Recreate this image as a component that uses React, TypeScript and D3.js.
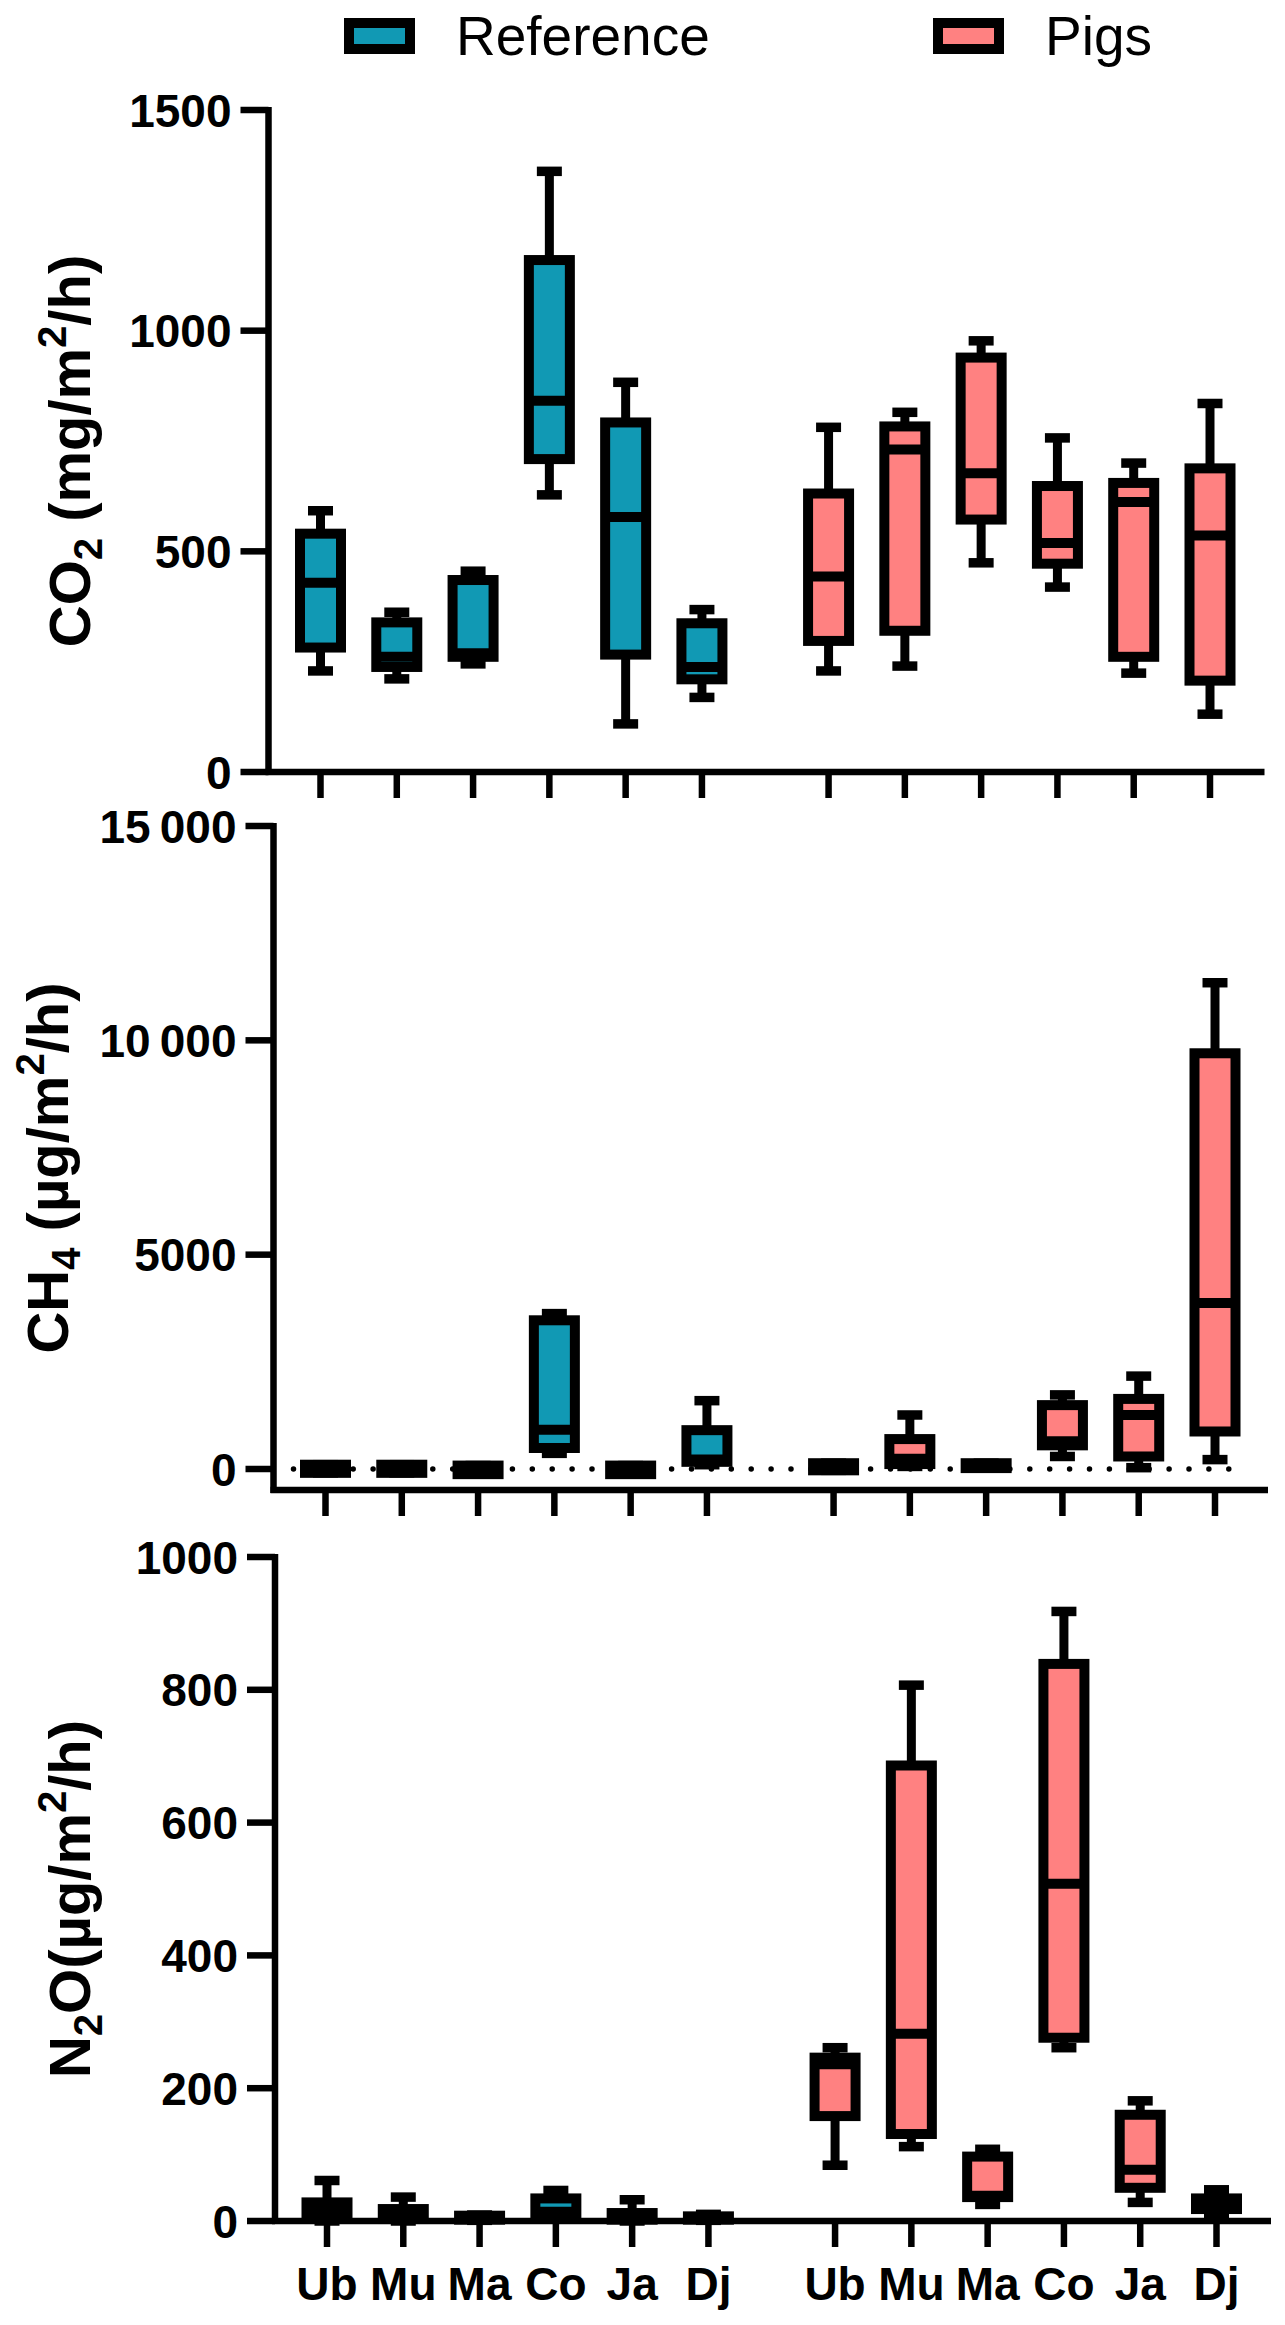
import * as d3 from "d3";

// five-number summaries: [min, q1, median, q3, max]
const sites = ["Ub", "Mu", "Ma", "Co", "Ja", "Dj"];

const co2Reference = [
  [229, 282, 429, 540, 592],
  [211, 238, 261, 339, 362],
  [245, 261, 269, 435, 455],
  [628, 709, 841, 1160, 1361],
  [109, 266, 578, 792, 883],
  [169, 210, 238, 337, 368],
];
const co2Pigs = [
  [229, 297, 443, 631, 781],
  [240, 320, 731, 783, 815],
  [474, 572, 677, 939, 977],
  [419, 472, 519, 648, 757],
  [224, 261, 612, 655, 700],
  [131, 207, 536, 688, 835],
];

const ch4Reference = [
  [-90, -90, 0, 100, 100],
  [-90, -90, 0, 100, 100],
  [-120, -120, -20, 80, 80],
  [365, 490, 917, 3469, 3625],
  [-120, -120, -20, 80, 80],
  [100, 167, 219, 906, 1594],
];
const ch4Pigs = [
  [-31, -31, 50, 135, 135],
  [60, 115, 240, 698, 1260],
  [21, 21, 70, 135, 135],
  [292, 552, 646, 1490, 1729],
  [31, 292, 1260, 1635, 2167],
  [219, 875, 3875, 9698, 11344],
];

const n2oReference = [
  [0, 5, 15, 28, 61],
  [0, 3, 10, 18, 36],
  [1, 2, 5, 8, 9],
  [5, 7, 14, 34, 46],
  [0, 2, 6, 12, 32],
  [1, 2, 4, 7, 10],
];
const n2oPigs = [
  [84, 158, 236, 246, 261],
  [112, 131, 282, 686, 807],
  [25, 36, 38, 97, 108],
  [261, 276, 508, 839, 918],
  [28, 50, 77, 160, 181],
  [9, 18, 26, 34, 47],
];

const co2Ticks = [0, 500, 1000, 1500];
const co2TickLabels = ["0", "500", "1000", "1500"];
const ch4Ticks = [0, 5000, 10000, 15000];
const ch4TickLabels = ["0", "5000", "10\u2009000", "15\u2009000"];
const n2oTicks = [0, 200, 400, 600, 800, 1000];
const n2oTickLabels = ["0", "200", "400", "600", "800", "1000"];

const legendItems = ["Reference", "Pigs"];

const TEAL = "#1199B4";
const PINK = "#FF8181";
const FONT = "'Liberation Sans', Arial, Helvetica, sans-serif";
const PIG_OFFSET = 6.66;

type Stats = number[];

interface PanelProps {
  axisX: number;
  axisTop: number;
  zeroY: number;
  xAxisY: number;
  xAxisEnd: number;
  domain: [number, number];
  ticks: number[];
  tickLabels: string[];
  reference: Stats[];
  pigs: Stats[];
  label: React.ReactNode;
  labelX: number;
  dotted?: boolean;
  showSites?: boolean;
}

function BoxPlot({ cx, s, y, fill }: { cx: number; s: Stats; y: d3.ScaleLinear<number, number>; fill: string }) {
  const [mn, q1, md, q3, mx] = s;
  const half = 20.5;
  const cap = 12.5;
  return (
    <g>
      <line x1={cx} x2={cx} y1={y(mx)} y2={y(q3)} stroke="#000" strokeWidth={9} />
      <line x1={cx} x2={cx} y1={y(q1)} y2={y(mn)} stroke="#000" strokeWidth={9} />
      <line x1={cx - cap} x2={cx + cap} y1={y(mx)} y2={y(mx)} stroke="#000" strokeWidth={9.5} />
      <line x1={cx - cap} x2={cx + cap} y1={y(mn)} y2={y(mn)} stroke="#000" strokeWidth={9.5} />
      <rect
        x={cx - half}
        y={y(q3)}
        width={half * 2}
        height={Math.max(0, y(q1) - y(q3))}
        fill={fill}
        stroke="#000"
        strokeWidth={10}
      />
      <line x1={cx - half} x2={cx + half} y1={y(md)} y2={y(md)} stroke="#000" strokeWidth={10} />
    </g>
  );
}

function Panel(p: PanelProps) {
  const y = d3.scaleLinear().domain(p.domain).range([p.zeroY, p.axisTop]);
  const x = d3
    .scaleLinear()
    .domain([0, 5 + PIG_OFFSET])
    .range([p.axisX + 52, p.axisX + 941.5]);
  const slots = [
    ...sites.map((_, i) => i),
    ...sites.map((_, i) => i + PIG_OFFSET),
  ];
  const midY = (p.axisTop + p.xAxisY) / 2 + 10;
  return (
    <g>
      {p.dotted && (
        <line
          x1={p.axisX + 20}
          x2={p.axisX + 972}
          y1={y(0)}
          y2={y(0)}
          stroke="#000"
          strokeWidth={5.5}
          strokeLinecap="round"
          strokeDasharray="0 19.9"
        />
      )}
      {sites.map((s, i) => (
        <BoxPlot key={"r" + s} cx={x(i)} s={p.reference[i]} y={y} fill={TEAL} />
      ))}
      {sites.map((s, i) => (
        <BoxPlot key={"p" + s} cx={x(i + PIG_OFFSET)} s={p.pigs[i]} y={y} fill={PINK} />
      ))}
      {/* y axis */}
      <line x1={p.axisX} x2={p.axisX} y1={p.axisTop - 3} y2={p.xAxisY + 3} stroke="#000" strokeWidth={6.5} />
      {p.ticks.map((t, i) => (
        <g key={t}>
          <line x1={p.axisX - 28} x2={p.axisX} y1={y(t)} y2={y(t)} stroke="#000" strokeWidth={6.5} />
          <text
            x={p.axisX - 37}
            y={y(t)}
            dy="0.36em"
            textAnchor="end"
            fontFamily={FONT}
            fontWeight="bold"
            fontSize={46}
          >
            {p.tickLabels[i]}
          </text>
        </g>
      ))}
      {/* x axis */}
      <line x1={p.axisX - 3} x2={p.xAxisEnd} y1={p.xAxisY} y2={p.xAxisY} stroke="#000" strokeWidth={6.5} />
      {slots.map((sl) => (
        <line key={sl} x1={x(sl)} x2={x(sl)} y1={p.xAxisY} y2={p.xAxisY + 26} stroke="#000" strokeWidth={6.5} />
      ))}
      {p.showSites &&
        slots.map((sl, i) => (
          <text
            key={"l" + sl}
            x={x(sl)}
            y={p.xAxisY + 79}
            textAnchor="middle"
            fontFamily={FONT}
            fontWeight="bold"
            fontSize={46}
          >
            {sites[i % 6]}
          </text>
        ))}
      <text
        transform={`translate(${p.labelX},${midY}) rotate(-90)`}
        textAnchor="middle"
        fontFamily={FONT}
        fontWeight="bold"
        fontSize={58}
      >
        {p.label}
      </text>
    </g>
  );
}

// rotated axis title: gas name with subscript, then unit with a squared metre
function AxisTitle({ gas, sub, rest }: { gas: string; sub: string; rest: string }) {
  return (
    <>
      <tspan>{gas}</tspan>
      <tspan dy={12} fontSize={40}>{sub}</tspan>
      <tspan dy={-12}>{rest}</tspan>
      <tspan dy={-24} fontSize={40}>2</tspan>
      <tspan dy={24}>/h)</tspan>
    </>
  );
}

export default function App() {
  return (
    <svg
      width={1285}
      height={2325}
      style={{ position: "absolute", left: 0, top: 0, display: "block", background: "#fff" }}
    >
      {/* legend */}
      {legendItems.map((name, i) => {
        const lx = i === 0 ? 349 : 938;
        return (
          <g key={name}>
            <rect x={lx} y={23} width={61} height={26} fill={i === 0 ? TEAL : PINK} stroke="#000" strokeWidth={10} />
            <text x={lx + 107} y={55} fontFamily={FONT} fontSize={55}>
              {name}
            </text>
          </g>
        );
      })}

      <Panel
        axisX={268.5}
        axisTop={110}
        zeroY={772}
        xAxisY={772}
        xAxisEnd={1264.5}
        domain={[0, 1500]}
        ticks={co2Ticks}
        tickLabels={co2TickLabels}
        reference={co2Reference}
        pigs={co2Pigs}
        labelX={90}
        label={<AxisTitle gas="CO" sub="2" rest={"\u00a0(mg/m"} />}
      />
      <Panel
        axisX={273.5}
        axisTop={826}
        zeroY={1469}
        xAxisY={1490}
        xAxisEnd={1268}
        domain={[0, 15000]}
        ticks={ch4Ticks}
        tickLabels={ch4TickLabels}
        reference={ch4Reference}
        pigs={ch4Pigs}
        labelX={68}
        dotted
        label={<AxisTitle gas="CH" sub="4" rest={"\u00a0(µg/m"} />}
      />
      <Panel
        axisX={275}
        axisTop={1557}
        zeroY={2221}
        xAxisY={2221}
        xAxisEnd={1271}
        domain={[0, 1000]}
        ticks={n2oTicks}
        tickLabels={n2oTickLabels}
        reference={n2oReference}
        pigs={n2oPigs}
        labelX={90}
        showSites
        label={<AxisTitle gas="N" sub="2" rest={"O(µg/m"} />}
      />
    </svg>
  );
}
